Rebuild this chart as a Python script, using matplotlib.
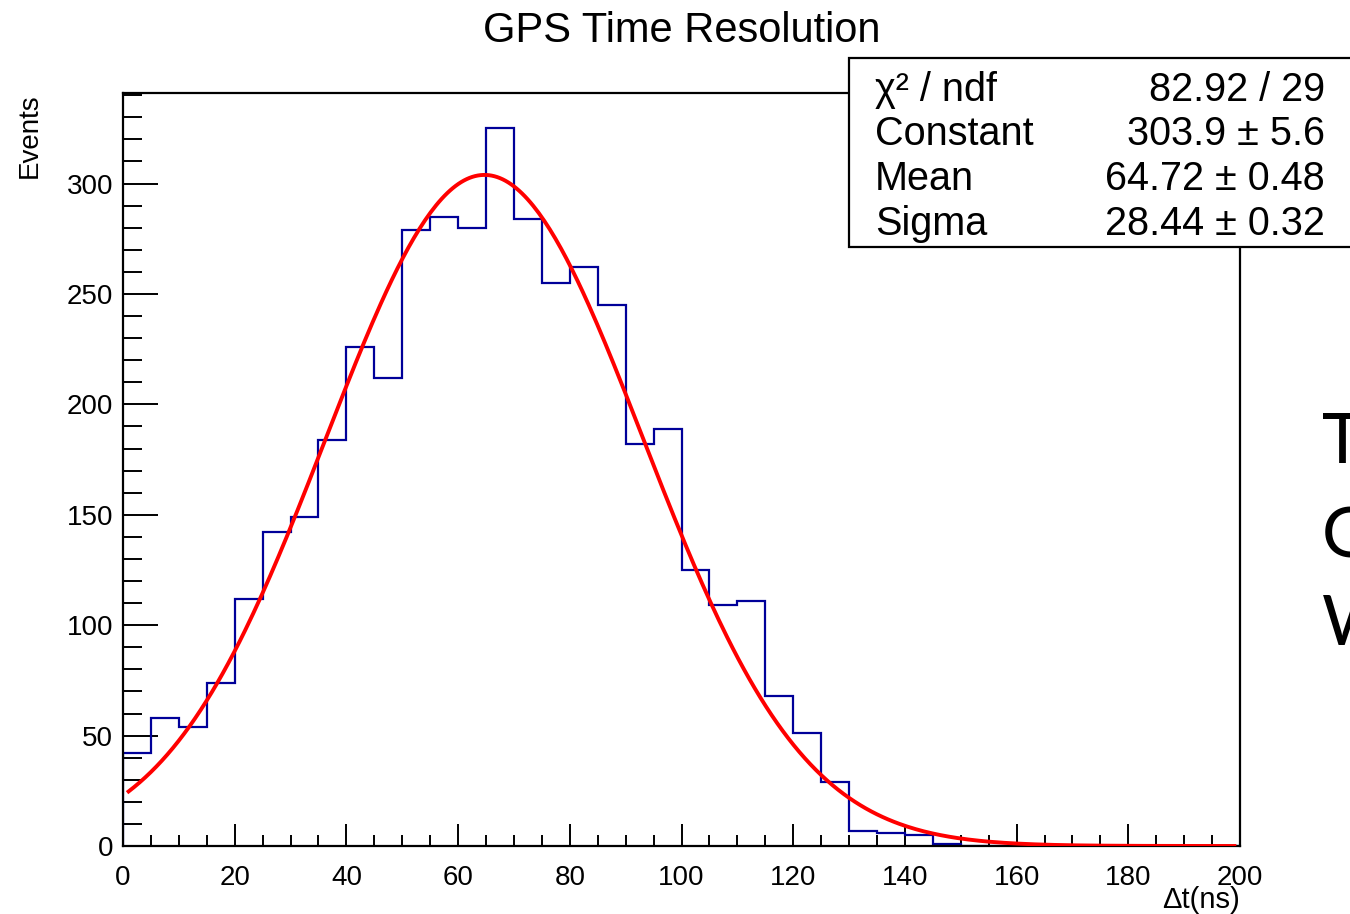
import numpy as np
import matplotlib.pyplot as plt
from matplotlib.patches import Rectangle
from matplotlib.ticker import MultipleLocator

plt.rcParams['font.family'] = ['Liberation Sans', 'DejaVu Sans']

#histogram: 5 ns bins from 0 to 200
bin_edges = np.arange(0, 205, 5)
counts = [42, 58, 54, 74, 112, 142, 149, 184, 226, 212,
          279, 285, 280, 325, 284, 255, 262, 245, 182, 189,
          125, 109, 111, 68, 51, 29, 7, 6, 5, 1,
          0, 0, 0, 0, 0, 0, 0, 0, 0, 0]

#gaus fit parameters (from the stats box)
fit_const = 303.9
fit_mean = 64.72
fit_sigma = 28.44
fit_range = (1, 199)

stat_names = ['\u03c7\u00b2 / ndf', 'Constant', 'Mean', 'Sigma']
stat_values = ['82.92 / 29', '303.9 \u00b1 5.6', '64.72 \u00b1 0.48', '28.44 \u00b1 0.32']

W, H = 1350, 914
fig = plt.figure(figsize=(W / 100, H / 100), dpi=100)
ax = fig.add_axes([123 / W, 1 - 846 / H, (1240 - 123) / W, (846 - 93) / H])

ax.stairs(counts, bin_edges, color='#000099', linewidth=1.6, zorder=2)

x = np.linspace(fit_range[0], fit_range[1], 400)
y = fit_const * np.exp(-0.5 * ((x - fit_mean) / fit_sigma) ** 2)
ax.plot(x, y, color='red', linewidth=2.8, zorder=3)

ax.set_xlim(0, 200)
ax.set_ylim(0, 341)

# ROOT style ticks: inside, only bottom and left
ax.xaxis.set_major_locator(MultipleLocator(20))
ax.xaxis.set_minor_locator(MultipleLocator(5))
ax.yaxis.set_major_locator(MultipleLocator(50))
ax.yaxis.set_minor_locator(MultipleLocator(10))
ax.tick_params(axis='x', which='major', direction='in', length=16, width=1.4, pad=14, labelsize=20)
ax.tick_params(axis='x', which='minor', direction='in', length=8, width=1.4)
ax.tick_params(axis='y', which='major', direction='in', length=25.5, width=1.4, pad=7, labelsize=20)
ax.tick_params(axis='y', which='minor', direction='in', length=13.5, width=1.4)
for s in ax.spines.values():
    s.set_linewidth(1.6)

fig.text(682 / W, 1 - 31 / H, 'GPS Time Resolution', fontsize=30, ha='center', va='center')
fig.text(30 / W, 1 - 93 / H, 'Events', fontsize=20, rotation=90, ha='center', va='top')
fig.text(1240 / W, 1 - 908 / H, '\u0394t(ns)', fontsize=21, ha='right', va='baseline')

# stats box
box = Rectangle((849 / W, 1 - 247 / H), (1360 - 849) / W, (247 - 58) / H,
                transform=fig.transFigure, facecolor='white', edgecolor='black',
                linewidth=1.6, zorder=5)
fig.patches.append(box)
row_y = [101, 145, 190, 235]
for name, val, yy in zip(stat_names, stat_values, row_y):
    fig.text(875 / W, 1 - yy / H, name, fontsize=28.5, ha='left', va='baseline', zorder=6)
    fig.text(1325 / W, 1 - yy / H, val, fontsize=28.5, ha='right', va='baseline', zorder=6)

# slide text cut off at the right edge
for letter, yy in zip(['T', 'G', 'W'], [463, 558, 645]):
    fig.text(1322 / W, 1 - yy / H, letter, fontsize=50, family=['Lato', 'DejaVu Sans'],
             ha='left', va='baseline')

fig.savefig('out.png', dpi=100)
